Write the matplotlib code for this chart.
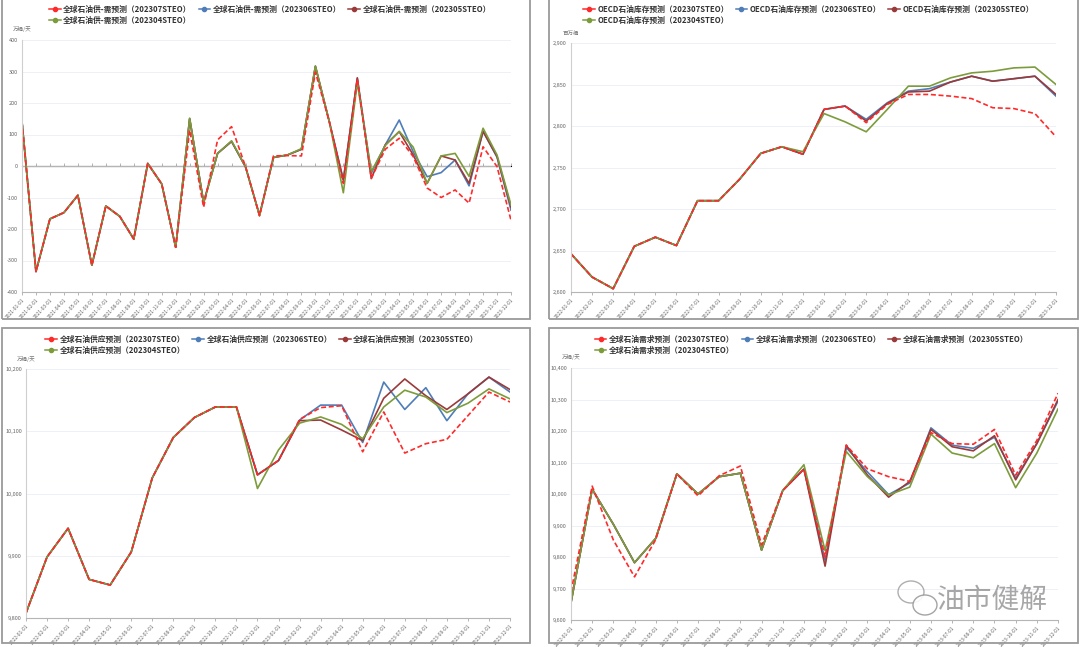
import matplotlib
matplotlib.use("Agg")
import matplotlib.pyplot as plt
import numpy as np
import pandas as pd
from matplotlib.patches import Rectangle, Ellipse

plt.rcParams['font.family'] = ['Noto Sans CJK SC', 'DejaVu Sans']

W, H = 1080, 647

# ---- data ----
months_p1 = pd.date_range("2021-01-01", periods=36, freq="MS").strftime("%Y-%m-%d").tolist()
months_p2 = pd.date_range("2022-01-01", periods=24, freq="MS").strftime("%Y-%m-%d").tolist()

versions = ["202307STEO", "202306STEO", "202305STEO", "202304STEO"]

# global supply-demand balance, 万桶/天
hist_bal = [140, -335, -168, -148, -93, -315, -127, -160, -232, 8, -57, -258]
bal_0307 = hist_bal + [114, -131, 83, 125, -2, -158, 32, 33, 32, 298, 140, -55,
                       275, -39, 53, 88, 30, -70, -100, -76, -118, 61, -2, -172]
bal_0306 = hist_bal + [150, -115, 40, 78, -3, -156, 27, 35, 53, 316, 140, -45,
                       278, -23, 67, 146, 45, -34, -21, 19, -63, 110, 28, -140]
bal_0305 = hist_bal + [150, -115, 40, 78, -3, -156, 27, 35, 53, 316, 140, -45,
                       280, -40, 67, 109, 35, -55, 32, 19, -55, 110, 30, -130]
bal_0304 = hist_bal + [152, -118, 40, 80, -2, -158, 28, 35, 55, 318, 140, -85,
                       265, -18, 65, 110, 60, -55, 32, 40, -33, 120, 35, -124]

# OECD inventory, 百万桶
hist_inv = [2646, 2618, 2604, 2655, 2666, 2656, 2710, 2710, 2736, 2767, 2775]
inv_0307 = hist_inv + [2766, 2820, 2824, 2804, 2826, 2838, 2838, 2836, 2833, 2822, 2821, 2815, 2787]
inv_0306 = hist_inv + [2766, 2820, 2824, 2808, 2828, 2842, 2845, 2853, 2860, 2854, 2857, 2860, 2836]
inv_0305 = hist_inv + [2766, 2820, 2824, 2806, 2827, 2841, 2842, 2853, 2860, 2854, 2857, 2860, 2838]
inv_0304 = hist_inv + [2769, 2815, 2805, 2793, 2820, 2848, 2848, 2858, 2864, 2866, 2870, 2871, 2850]

# global supply, 万桶/天
hist_sup = [9808, 9898, 9944, 9862, 9853, 9906, 10025, 10090, 10122, 10139, 10139]
sup_0307 = hist_sup + [10030, 10053, 10119, 10138, 10141, 10067, 10131, 10065, 10080, 10087, 10125, 10163, 10147]
sup_0306 = hist_sup + [10030, 10053, 10118, 10142, 10142, 10082, 10179, 10135, 10170, 10117, 10160, 10187, 10163]
sup_0305 = hist_sup + [10030, 10053, 10117, 10118, 10102, 10085, 10153, 10184, 10157, 10135, 10160, 10187, 10167]
sup_0304 = hist_sup + [10008, 10070, 10113, 10123, 10111, 10088, 10139, 10166, 10155, 10130, 10145, 10168, 10152]

# global demand, 万桶/天
dem_0307 = [9690, 10025, 9854, 9737, 9855, 10064, 9994, 10058, 10089, 9838, 10011, 10079,
            9800, 10155, 10080, 10055, 10040, 10195, 10160, 10158, 10205, 10060, 10170, 10320]
dem_0306 = [9655, 10015, 9904, 9782, 9859, 10064, 10000, 10055, 10066, 9822, 10011, 10079,
            9790, 10148, 10070, 9998, 10035, 10210, 10155, 10145, 10180, 10050, 10160, 10295]
dem_0305 = [9655, 10015, 9904, 9782, 9859, 10064, 10000, 10055, 10066, 9822, 10011, 10079,
            9771, 10155, 10060, 9990, 10040, 10205, 10150, 10137, 10185, 10045, 10160, 10300]
dem_0304 = [9655, 10015, 9904, 9782, 9859, 10064, 10000, 10055, 10066, 9822, 10011, 10093,
            9820, 10135, 10055, 9997, 10022, 10190, 10130, 10115, 10160, 10020, 10130, 10270]

colors = ["#ff2a2a", "#4e7db8", "#9a3a3a", "#7c9c3c"]
styles = ["--", "-", "-", "-"]


def px_axes(x0, y0, x1, y1):
    return [x0 / W, 1 - y1 / H, (x1 - x0) / W, (y1 - y0) / H]


def frame(x0, y0, x1, y1):
    fig.add_artist(Rectangle((x0 / W, 1 - y1 / H), (x1 - x0) / W, (y1 - y0) / H,
                             transform=fig.transFigure, fill=False,
                             edgecolor="#9a9a9a", linewidth=1.3))


def draw_panel(rect, box, months, series, name, ylim, ystep, unit,
               zero_line=False, leg_dx=0):
    ax = fig.add_axes(px_axes(*rect))
    x = np.arange(len(months))
    # solid versions first, latest (dashed) on top
    for i in [1, 2, 3, 0]:
        if styles[i] == "--":
            ax.plot(x, series[i], color=colors[i], lw=1.2, ls="--", dashes=(3, 1.6))
        else:
            ax.plot(x, series[i], color=colors[i], lw=1.2)
    ax.set_xlim(0, len(months) - 1)
    ax.set_ylim(*ylim)
    yt = np.arange(ylim[0], ylim[1] + 1, ystep)
    ax.set_yticks(yt)
    ax.set_yticklabels([f"{v:,}" for v in yt], fontsize=4.0, color="#666")
    ax.set_xticks(x)
    ax.set_xticklabels(months, fontsize=3.5, color="#666", rotation=48,
                       ha="right", va="top", rotation_mode="anchor")
    ax.tick_params(axis="y", length=0, pad=3)
    ax.tick_params(axis="x", length=2.5, width=0.5, color="#999", pad=1.5)
    for s in ["top", "right"]:
        ax.spines[s].set_visible(False)
    ax.spines["left"].set_color("#cfcfcf")
    ax.spines["left"].set_linewidth(0.8)
    ax.spines["bottom"].set_color("#b5b5b5")
    ax.spines["bottom"].set_linewidth(0.8)
    ax.grid(axis="y", color="#eef0f7", lw=0.7)
    ax.set_axisbelow(True)
    if zero_line:
        ax.axhline(0, color="#b5b5b5", lw=0.8, zorder=1)
        sec = ax.secondary_xaxis((0 - ylim[0]) / (ylim[1] - ylim[0]))
        sec.set_xticks(x)
        sec.set_xticklabels([])
        sec.tick_params(length=2.5, width=0.5, color="#999")
        sec.spines["bottom"].set_visible(False)
    ax.text(0.0, 1.03, unit, transform=ax.transAxes, fontsize=4.0,
            color="#777", ha="center", va="bottom")
    # legend
    handles = [plt.Line2D([], [], color=c, lw=1.1, marker="o", markersize=3.0)
               for c in colors]
    labels = [f"{name}（{v}）" for v in versions]
    order = [0, 3, 1, 2]
    bx0, by0, bx1, by1 = box
    ax.legend([handles[k] for k in order], [labels[k] for k in order], ncol=3,
              loc="upper center",
              bbox_to_anchor=((bx0 + bx1) / 2 / W + leg_dx / W, 1 - (by0 + 1) / H),
              bbox_transform=fig.transFigure, frameon=False,
              prop={"size": 5.6, "weight": "bold"}, labelcolor="#333",
              handlelength=1.5, handletextpad=0.35, columnspacing=0.9,
              labelspacing=0.3, borderpad=0.2)
    frame(*box)
    return ax


fig = plt.figure(figsize=(W / 100, H / 100), dpi=100)
fig.patch.set_facecolor("white")

draw_panel((22, 40, 511, 292), (2, -2, 530, 319), months_p1,
           [bal_0307, bal_0306, bal_0305, bal_0304], "全球石油供-需预测",
           (-400, 400), 100, "万桶/天", zero_line=True, leg_dx=4)
draw_panel((571, 43, 1056, 292), (549, -2, 1078, 319), months_p2,
           [inv_0307, inv_0306, inv_0305, inv_0304], "OECD石油库存预测",
           (2600, 2900), 50, "百万桶", leg_dx=-5)
draw_panel((26, 369, 510, 618), (2, 328, 530, 643), months_p2,
           [sup_0307, sup_0306, sup_0305, sup_0304], "全球石油供应预测",
           (9800, 10200), 100, "万桶/天", leg_dx=-4)
draw_panel((571, 368, 1058, 620), (549, 328, 1078, 643), months_p2,
           [dem_0307, dem_0306, dem_0305, dem_0304], "全球石油需求预测",
           (9600, 10400), 100, "万桶/天", leg_dx=-2)

# watermark
fig.text(992 / W, 1 - 600 / H, "油市健解", fontsize=20, color="#8a8a8a",
         ha="center", va="center", alpha=0.75, family=["Noto Sans CJK SC"],
         fontweight="light")
fig.add_artist(Ellipse((911 / W, 1 - 592 / H), 26 / W, 22 / H, transform=fig.transFigure,
                       fill=False, edgecolor="#9a9a9a", lw=1.0, alpha=0.8))
fig.add_artist(Ellipse((925 / W, 1 - 605 / H), 24 / W, 20 / H, transform=fig.transFigure,
                       facecolor="white", edgecolor="#9a9a9a", lw=1.0, alpha=0.9))

fig.savefig("out.png", dpi=100, facecolor="white")
